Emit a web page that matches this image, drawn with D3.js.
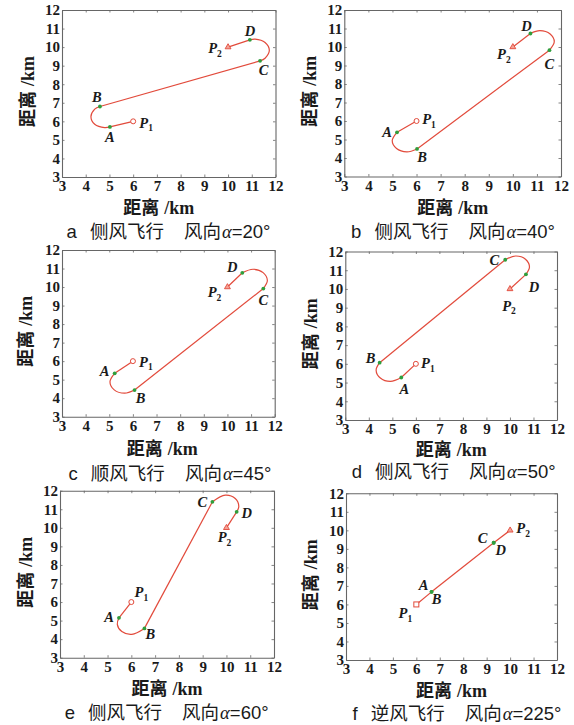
<!DOCTYPE html>
<html>
<head>
<meta charset="utf-8">
<script src="https://cdn.jsdelivr.net/npm/d3@7"></script>
<style>
	body { margin: 0; background: #fff; }
	svg { display: block; }
</style>
</head>
<body>
<svg id="fig" width="574" height="725"></svg>
<script>

// tick values, same on both axes (km)
var tickValues = [3, 4, 5, 6, 7, 8, 9, 10, 11, 12];

// start and end of every flight (km)
var startP1 = [6, 6];
var endP2 = [10, 10];

// turns: first point is A (or C), last point is B (or D)
var turnA1 = [[5.02, 5.70], [4.80, 5.66], [4.38, 5.84], [4.22, 6.25], [4.38, 6.66], [4.60, 6.80]];
var turnA2 = [[11.35, 9.26], [11.56, 9.40], [11.74, 9.83], [11.56, 10.25], [11.14, 10.43], [10.92, 10.39]];

var turnB1 = [[5.19, 5.39], [4.99, 4.94], [5.17, 4.51], [5.60, 4.33], [6.02, 4.49]];
var turnB2 = [[11.52, 9.83], [11.72, 10.28], [11.55, 10.70], [11.12, 10.88], [10.73, 10.73]];

var turnC1 = [[5.23, 5.34], [5.03, 4.89], [5.21, 4.45], [5.65, 4.27], [6.07, 4.44]];
var turnC2 = [[11.52, 9.92], [11.69, 10.35], [11.51, 10.78], [11.08, 10.96], [10.63, 10.77]];

var turnD1 = [[5.38, 5.27], [4.92, 5.06], [4.49, 5.24], [4.31, 5.66], [4.46, 6.06]];
var turnD2 = [[9.80, 11.56], [10.24, 11.76], [10.66, 11.59], [10.83, 11.17], [10.68, 10.78]];

var turnE1 = [[5.48, 5.15], [5.41, 4.80], [5.60, 4.41], [6.02, 4.26], [6.55, 4.58]];
var turnE2 = [[9.41, 11.40], [9.95, 11.76], [10.37, 11.58], [10.52, 11.15], [10.43, 10.86]];

var turnF1 = [[6.65, 6.68]];
var turnF2 = [[9.30, 9.33]];

// captions: panel letter, flight type, wind direction
var panelLetters = ["a", "b", "c", "d", "e", "f"];
var flightTypes = ["侧风飞行", "侧风飞行", "顺风飞行", "侧风飞行", "侧风飞行", "逆风飞行"];
var windAngles = ["20", "40", "45", "50", "60", "225"];

// panel layout: plot box [x0, y0, x1, y1], caption/label placement, point-label offsets [dx, dy]
var panels = [
	{ box: [62, 10, 275.5, 177], turn1: turnA1, turn2: turnA2, startMark: "circle",
		capX: 168.5, capY: 238, xlabShift: -10, ylabX: 34, xlabY: 214,
		off: { P1: [13, 6.5], A: [0, 14.6], B: [-3, -4], C: [3.5, 14], D: [0, -4], P2: [-13, 6] } },
	{ box: [344.3, 10, 561, 176.5], turn1: turnB1, turn2: turnB2, startMark: "circle",
		capX: 453, capY: 238, xlabShift: 0, ylabX: 315.5, xlabY: 214,
		off: { P1: [12.5, 3], A: [-10, 4.5], B: [5, 13], C: [0, 18.6], D: [-4, -2.6], P2: [-9, 12] } },
	{ box: [62, 250, 274.7, 416.7], turn1: turnC1, turn2: turnC2, startMark: "circle",
		capX: 170, capY: 479.5, xlabShift: -6, ylabX: 32, xlabY: 455,
		off: { P1: [13, 5.6], A: [-10, 3], B: [6, 13], C: [0, 16.5], D: [-10, -0.5], P2: [-13, 10] } },
	{ box: [345.3, 251.5, 557, 420], turn1: turnD1, turn2: turnD2, startMark: "circle",
		capX: 453.7, capY: 478, xlabShift: 0, ylabX: 317, xlabY: 456,
		off: { P1: [12, 4.6], A: [3, 16], B: [-9, 0.4], C: [-11, 5], D: [8, 18], P2: [-1, 22] } },
	{ box: [60, 490.7, 274, 657.7], turn1: turnE1, turn2: turnE2, startMark: "circle",
		capX: 166.7, capY: 718.5, xlabShift: 0, ylabX: 32, xlabY: 695,
		off: { P1: [10, -5], A: [-10, 4], B: [6, 11], C: [-10, 5], D: [10, 6], P2: [-2, 14.6] } },
	{ box: [346, 493.3, 557, 660], turn1: turnF1, turn2: turnF2, startMark: "square",
		capX: 457, capY: 719.5, xlabShift: 0, ylabX: 317, xlabY: 697,
		off: { P1: [-11, 14], A: [-8, -2], B: [5, 12], C: [-11, 0.5], D: [7, 12], P2: [13, 3] } }
];

// colours
var colTrack = "#e24a3b";
var colTurnPt = "#2f9e3c";
var colFrame = "#666";
var colText = "#1a1a1a";

var cjkFont = "'Noto Sans CJK SC', 'Noto Sans', sans-serif";
var serifFont = "'Liberation Serif', 'DejaVu Serif', serif";
var sansFont = "'Liberation Sans', Arial, sans-serif";

var svg = d3.select("#fig");



// point label like P1 / A with italic bold serif and optional subscript
function pointLabel(g, px, py, main, sub, off) {
	var t = g.append("text")
		.attr("x", px + off[0])
		.attr("y", py + off[1])
		.attr("text-anchor", "middle")
		.attr("font-family", serifFont)
		.attr("font-style", "italic")
		.attr("font-weight", "bold")
		.attr("font-size", 14.5)
		.attr("fill", colText);
	t.append("tspan").text(main);
	if (sub) t.append("tspan")
		.attr("font-size", 9.5)
		.attr("font-style", "normal")
		.attr("dy", 3.5)
		.text(sub);
};



// "距离 /km" axis title
function axisTitle(g, x, y, rotate) {
	var t = g.append("text")
		.attr("text-anchor", "middle")
		.attr("fill", colText)
		.attr("font-weight", "bold")
		.attr("font-size", 18)
		.attr("transform", "translate(" + x + "," + y + ")" + (rotate ? " rotate(-90)" : ""));
	t.append("tspan").attr("font-family", cjkFont).text("距离");
	t.append("tspan").attr("font-family", serifFont).attr("dx", 5).text("/km");
};



// one panel of the figure
function drawPanel(p, i) {
	var b = p.box;
	var x = d3.scaleLinear().domain([3, 12]).range([b[0], b[2]]);
	var y = d3.scaleLinear().domain([3, 12]).range([b[3], b[1]]);
	var g = svg.append("g");

	// frame with small inward ticks on all four sides (labels only bottom/left)
	var axes = [
		[d3.axisBottom(x), "translate(0," + b[3] + ")", 3.5],
		[d3.axisLeft(y), "translate(" + b[0] + ",0)", 2],
		[d3.axisTop(x), "translate(0," + b[1] + ")", 0],
		[d3.axisRight(y), "translate(" + b[2] + ",0)", 0]
	];
	axes.forEach(function (a) {
		var ax = a[0].tickValues(tickValues).tickSizeInner(-2.5).tickSizeOuter(0).tickPadding(a[2]);
		if (!a[2]) ax.tickFormat("");
		var ga = g.append("g").attr("transform", a[1]).call(ax);
		ga.select(".domain").attr("stroke", colFrame).attr("stroke-width", 1.1);
		ga.selectAll(".tick line").attr("stroke", colFrame).attr("stroke-width", 0.8);
		ga.selectAll(".tick text")
			.attr("fill", colText)
			.attr("font-family", serifFont)
			.attr("font-weight", "bold")
			.attr("font-size", 15);
	});

	// track: straight legs and turns
	var straight = d3.line().x(function (d) { return x(d[0]); }).y(function (d) { return y(d[1]); });
	var curved = d3.line().curve(d3.curveCatmullRom.alpha(0.5))
		.x(function (d) { return x(d[0]); }).y(function (d) { return y(d[1]); });
	var t1 = p.turn1, t2 = p.turn2;
	var ptA = t1[0], ptB = t1[t1.length - 1], ptC = t2[0], ptD = t2[t2.length - 1];
	var legs = [
		straight([startP1, ptA]),
		t1.length > 1 ? curved(t1) : null,
		straight([ptB, ptC]),
		t2.length > 1 ? curved(t2) : null,
		straight([ptD, endP2])
	];
	legs.forEach(function (d) {
		if (!d) return;
		g.append("path").attr("d", d)
			.attr("fill", "none")
			.attr("stroke", colTrack)
			.attr("stroke-width", 1.2);
	});

	// turn points A B C D
	g.selectAll("circle.turn").data([ptA, ptB, ptC, ptD]).enter().append("circle")
		.attr("class", "turn")
		.attr("cx", function (d) { return x(d[0]); })
		.attr("cy", function (d) { return y(d[1]); })
		.attr("r", 1.9)
		.attr("fill", colTurnPt);

	// start marker P1 and end marker P2
	var sx = x(startP1[0]), sy = y(startP1[1]);
	if (p.startMark === "square")
		g.append("rect").attr("x", sx - 2.5).attr("y", sy - 2.5).attr("width", 5).attr("height", 5)
			.attr("fill", "#fff").attr("stroke", colTrack).attr("stroke-width", 1);
	else
		g.append("circle").attr("cx", sx).attr("cy", sy).attr("r", 2.5)
			.attr("fill", "#fff").attr("stroke", colTrack).attr("stroke-width", 1);
	g.append("path")
		.attr("d", d3.symbol().type(d3.symbolTriangle).size(15)())
		.attr("transform", "translate(" + x(endP2[0]) + "," + y(endP2[1]) + ")")
		.attr("fill", "#f3a296")
		.attr("stroke", colTrack)
		.attr("stroke-width", 0.9);

	// point labels
	var o = p.off;
	pointLabel(g, sx, sy, "P", "1", o.P1);
	pointLabel(g, x(endP2[0]), y(endP2[1]), "P", "2", o.P2);
	pointLabel(g, x(ptA[0]), y(ptA[1]), "A", null, o.A);
	pointLabel(g, x(ptB[0]), y(ptB[1]), "B", null, o.B);
	pointLabel(g, x(ptC[0]), y(ptC[1]), "C", null, o.C);
	pointLabel(g, x(ptD[0]), y(ptD[1]), "D", null, o.D);

	// axis titles
	axisTitle(g, (b[0] + b[2]) / 2 + p.xlabShift, p.xlabY, false);
	axisTitle(g, p.ylabX, (b[1] + b[3]) / 2 - 2, true);

	// caption
	var cap = g.append("text")
		.attr("x", p.capX)
		.attr("y", p.capY)
		.attr("text-anchor", "middle")
		.attr("fill", colText)
		.attr("font-size", 18.5);
	cap.append("tspan").attr("font-family", sansFont).text(panelLetters[i]);
	cap.append("tspan").attr("font-family", cjkFont).attr("dx", 13).text(flightTypes[i]);
	cap.append("tspan").attr("font-family", cjkFont).attr("dx", 20).text("风向");
	cap.append("tspan").attr("font-family", serifFont).attr("font-style", "italic").attr("dx", 1).text("α");
	cap.append("tspan").attr("font-family", sansFont).text("=" + windAngles[i] + "°");
};



panels.forEach(drawPanel);

</script>
</body>
</html>
